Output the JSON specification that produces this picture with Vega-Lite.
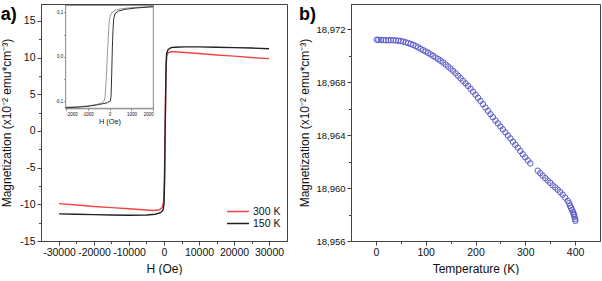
{
  "$schema": "https://vega.github.io/schema/vega-lite/v6.json",
  "padding": {"left": 0, "top": 3, "right": 1, "bottom": 0},
  "spacing": 10,
  "config": {
    "locale": {"number": {"decimal": ",", "thousands": ".", "grouping": [3], "currency": ["", ""], "minus": "-"}},
    "font": "Liberation Sans",
    "view": {"stroke": "#444", "strokeWidth": 1},
    "axis": {"grid": false, "domainColor": "#444", "tickColor": "#444", "labelColor": "#111", "titleColor": "#111", "labelFont": "Liberation Sans", "titleFont": "Liberation Sans", "titleFontWeight": "normal", "labelFontSize": 10.5, "titleFontSize": 12, "tickSize": 4, "labelPadding": 2},
    "title": {"font": "Liberation Sans"}
  },
  "datasets": {
    "main": [
      {"series": "300 K", "h": -30000, "m": -9.9}, {"series": "300 K", "h": -25000, "m": -10.1}, {"series": "300 K", "h": -20000, "m": -10.3}, {"series": "300 K", "h": -15000, "m": -10.45}, {"series": "300 K", "h": -10000, "m": -10.6}, {"series": "300 K", "h": -6000, "m": -10.75}, {"series": "300 K", "h": -3000, "m": -10.85}, {"series": "300 K", "h": -1300, "m": -10.75}, {"series": "300 K", "h": -500, "m": -10.4}, {"series": "300 K", "h": -100, "m": -9.6}, {"series": "300 K", "h": 100, "m": -7}, {"series": "300 K", "h": 250, "m": -2}, {"series": "300 K", "h": 400, "m": 3}, {"series": "300 K", "h": 550, "m": 8}, {"series": "300 K", "h": 750, "m": 10.2}, {"series": "300 K", "h": 1200, "m": 10.65}, {"series": "300 K", "h": 2000, "m": 10.8}, {"series": "300 K", "h": 3000, "m": 10.8}, {"series": "300 K", "h": 6000, "m": 10.7}, {"series": "300 K", "h": 10000, "m": 10.55}, {"series": "300 K", "h": 15000, "m": 10.35}, {"series": "300 K", "h": 20000, "m": 10.2}, {"series": "300 K", "h": 25000, "m": 10.0}, {"series": "300 K", "h": 30000, "m": 9.85},
      {"series": "150 K", "h": -30000, "m": -11.3}, {"series": "150 K", "h": -25000, "m": -11.35}, {"series": "150 K", "h": -20000, "m": -11.4}, {"series": "150 K", "h": -15000, "m": -11.45}, {"series": "150 K", "h": -10000, "m": -11.5}, {"series": "150 K", "h": -5000, "m": -11.45}, {"series": "150 K", "h": -2500, "m": -11.35}, {"series": "150 K", "h": -1000, "m": -11.15}, {"series": "150 K", "h": -300, "m": -10.8}, {"series": "150 K", "h": 0, "m": -10}, {"series": "150 K", "h": 200, "m": -6}, {"series": "150 K", "h": 300, "m": -1}, {"series": "150 K", "h": 450, "m": 4}, {"series": "150 K", "h": 600, "m": 9}, {"series": "150 K", "h": 750, "m": 10.6}, {"series": "150 K", "h": 1200, "m": 11.1}, {"series": "150 K", "h": 2000, "m": 11.35}, {"series": "150 K", "h": 3000, "m": 11.4}, {"series": "150 K", "h": 6000, "m": 11.45}, {"series": "150 K", "h": 10000, "m": 11.45}, {"series": "150 K", "h": 15000, "m": 11.4}, {"series": "150 K", "h": 20000, "m": 11.35}, {"series": "150 K", "h": 25000, "m": 11.3}, {"series": "150 K", "h": 30000, "m": 11.2}
    ],
    "inset": [
      {"branch": "down", "h": -2000, "m": -0.114}, {"branch": "down", "h": -1500, "m": -0.113}, {"branch": "down", "h": -1000, "m": -0.111}, {"branch": "down", "h": -600, "m": -0.108}, {"branch": "down", "h": -350, "m": -0.104}, {"branch": "down", "h": -250, "m": -0.1}, {"branch": "down", "h": -200, "m": -0.09}, {"branch": "down", "h": -150, "m": -0.05}, {"branch": "down", "h": -100, "m": 0.0}, {"branch": "down", "h": -60, "m": 0.04}, {"branch": "down", "h": -20, "m": 0.075}, {"branch": "down", "h": 20, "m": 0.09}, {"branch": "down", "h": 100, "m": 0.1}, {"branch": "down", "h": 250, "m": 0.105}, {"branch": "down", "h": 500, "m": 0.108}, {"branch": "down", "h": 1000, "m": 0.111}, {"branch": "down", "h": 1500, "m": 0.112}, {"branch": "down", "h": 2000, "m": 0.113},
      {"branch": "up", "h": -2000, "m": -0.115}, {"branch": "up", "h": -1500, "m": -0.114}, {"branch": "up", "h": -1000, "m": -0.112}, {"branch": "up", "h": -500, "m": -0.108}, {"branch": "up", "h": -100, "m": -0.104}, {"branch": "up", "h": 40, "m": -0.1}, {"branch": "up", "h": 70, "m": -0.09}, {"branch": "up", "h": 100, "m": -0.04}, {"branch": "up", "h": 130, "m": 0.02}, {"branch": "up", "h": 160, "m": 0.06}, {"branch": "up", "h": 190, "m": 0.085}, {"branch": "up", "h": 250, "m": 0.097}, {"branch": "up", "h": 400, "m": 0.103}, {"branch": "up", "h": 700, "m": 0.107}, {"branch": "up", "h": 1200, "m": 0.11}, {"branch": "up", "h": 2000, "m": 0.113}
    ],
    "temp": [
      {"t": 2, "m": 18.9712}, {"t": 5, "m": 18.97119}, {"t": 10, "m": 18.97118}, {"t": 15, "m": 18.97117}, {"t": 20, "m": 18.97116}, {"t": 25, "m": 18.97116}, {"t": 30, "m": 18.97117}, {"t": 35, "m": 18.97116}, {"t": 40, "m": 18.97115}, {"t": 45, "m": 18.97113}, {"t": 50, "m": 18.9711}, {"t": 55, "m": 18.97106}, {"t": 60, "m": 18.97101}, {"t": 65, "m": 18.97095}, {"t": 70, "m": 18.97088}, {"t": 75, "m": 18.97081}, {"t": 80, "m": 18.97072}, {"t": 85, "m": 18.97062}, {"t": 90, "m": 18.97051}, {"t": 95, "m": 18.97041}, {"t": 100, "m": 18.97031}, {"t": 105, "m": 18.97021}, {"t": 110, "m": 18.9701}, {"t": 115, "m": 18.96998}, {"t": 120, "m": 18.96986}, {"t": 125, "m": 18.96974}, {"t": 130, "m": 18.96961}, {"t": 135, "m": 18.96948}, {"t": 140, "m": 18.96933}, {"t": 145, "m": 18.96918}, {"t": 150, "m": 18.96902}, {"t": 155, "m": 18.96885}, {"t": 160, "m": 18.96867}, {"t": 165, "m": 18.96848}, {"t": 170, "m": 18.96829}, {"t": 175, "m": 18.9681}, {"t": 180, "m": 18.96791}, {"t": 185, "m": 18.96771}, {"t": 190, "m": 18.9675}, {"t": 195, "m": 18.96728}, {"t": 200, "m": 18.96705}, {"t": 205, "m": 18.96682}, {"t": 210, "m": 18.96658}, {"t": 215, "m": 18.96633}, {"t": 220, "m": 18.96608}, {"t": 225, "m": 18.96583}, {"t": 230, "m": 18.96558}, {"t": 235, "m": 18.96535}, {"t": 240, "m": 18.9651}, {"t": 245, "m": 18.96488}, {"t": 250, "m": 18.96465}, {"t": 255, "m": 18.96443}, {"t": 260, "m": 18.9642}, {"t": 265, "m": 18.96397}, {"t": 270, "m": 18.96375}, {"t": 275, "m": 18.9635}, {"t": 280, "m": 18.96327}, {"t": 285, "m": 18.96305}, {"t": 290, "m": 18.9628}, {"t": 295, "m": 18.96255}, {"t": 300, "m": 18.96232}, {"t": 305, "m": 18.96208}, {"t": 310, "m": 18.96186}, {"t": 325, "m": 18.96131}, {"t": 330, "m": 18.96112}, {"t": 335, "m": 18.96094}, {"t": 340, "m": 18.96075}, {"t": 345, "m": 18.96057}, {"t": 350, "m": 18.9604}, {"t": 355, "m": 18.96021}, {"t": 360, "m": 18.96005}, {"t": 365, "m": 18.95988}, {"t": 370, "m": 18.9597}, {"t": 375, "m": 18.9595}, {"t": 380, "m": 18.95928}, {"t": 385, "m": 18.95903}, {"t": 388, "m": 18.95885}, {"t": 390, "m": 18.95865}, {"t": 392, "m": 18.9585}, {"t": 394, "m": 18.95835}, {"t": 396, "m": 18.95818}, {"t": 397, "m": 18.95805}, {"t": 398, "m": 18.95795}, {"t": 399, "m": 18.9578}, {"t": 400, "m": 18.95765}, {"t": 400.5, "m": 18.95752}
    ]
  },
  "hconcat": [
    {
      "width": 246,
      "height": 237,
      "title": {"text": "a)", "anchor": "start", "frame": "bounds", "fontSize": 18, "fontWeight": "bold", "color": "#000", "offset": -20},
      "layer": [
        {
          "data": {"name": "main"},
          "mark": {"type": "line", "strokeWidth": 1.4},
          "encoding": {
            "x": {"field": "h", "type": "quantitative", "scale": {"domain": [-35140, 35140], "nice": false, "zero": false},
                  "axis": {"title": "H (Oe)", "values": [-30000, -25000, -20000, -15000, -10000, -5000, 0, 5000, 10000, 15000, 20000, 25000, 30000], "format": "d", "labelExpr": "datum.value % 10000 == 0 ? datum.label : ''", "tickSize": {"condition": {"test": "datum.value % 10000 == 0", "value": 4}, "value": 2.5}, "titlePadding": 6}},
            "y": {"field": "m", "type": "quantitative", "scale": {"domain": [-15, 17.3], "nice": false, "zero": false},
                  "axis": {"title": "Magnetization (x10⁻² emu*cm⁻³)", "values": [-15, -12.5, -10, -7.5, -5, -2.5, 0, 2.5, 5, 7.5, 10, 12.5, 15], "format": "d", "labelExpr": "datum.value % 5 == 0 ? datum.label : ''", "tickSize": {"condition": {"test": "datum.value % 5 == 0", "value": 4}, "value": 2.5}, "titlePadding": 6}},
            "color": {"field": "series", "type": "nominal", "scale": {"domain": ["300 K", "150 K"], "range": ["#f04545", "#222222"]},
                      "legend": {"title": null, "orient": "none", "legendX": 185, "legendY": 201, "symbolType": "M-1,0H3", "symbolSize": 121, "symbolStrokeWidth": 1.5, "symbolFillColor": "transparent", "labelFontSize": 10.5, "labelFont": "Liberation Sans", "labelColor": "#111", "rowPadding": 0, "labelOffset": 14}}
          }
        },
        {
          "data": {"name": "inset"},
          "layer": [
            {
              "mark": {"type": "rect", "fill": "white", "stroke": "#888", "strokeWidth": 0.8},
              "encoding": {
                "x": {"datum": -2000, "type": "quantitative"},
                "x2": {"datum": 2000},
                "y": {"datum": -0.1164, "type": "quantitative"},
                "y2": {"datum": 0.1157}
              }
            },
            {
              "transform": [{"filter": "datum.branch == 'down'"}],
              "mark": {"type": "line", "strokeWidth": 1, "color": "#999999"},
              "encoding": {
                "x": {"field": "h", "type": "quantitative"},
                "y": {"field": "m", "type": "quantitative"}
              }
            },
            {
              "transform": [{"filter": "datum.branch == 'up'"}],
              "mark": {"type": "line", "strokeWidth": 1, "color": "#333333"},
              "encoding": {
                "x": {"field": "h", "type": "quantitative", "scale": {"domain": [-2000, 2000], "nice": false, "zero": false, "range": [24.7, 112.3]},
                      "axis": {"orient": "bottom", "offset": -132.7, "title": "H (Oe)", "titleFontSize": 7.4, "titlePadding": 2, "labelFontSize": 4.5, "labelPadding": 1, "values": [-2000, -1500, -1000, -500, 0, 500, 1000, 1500, 2000], "format": "d", "labelExpr": "datum.value % 1000 == 0 ? datum.label : ''", "tickSize": 2, "domainColor": "#888", "tickColor": "#888"}},
                "y": {"field": "m", "type": "quantitative", "scale": {"domain": [-0.1164, 0.1157], "nice": false, "zero": false, "range": [104.3, 1.5]},
                      "axis": {"orient": "left", "offset": -24.7, "title": null, "labelFontSize": 4.5, "labelPadding": 1, "values": [-0.1, -0.05, 0, 0.05, 0.1], "format": ".1f", "labelExpr": "abs(round(datum.value*100)) % 10 == 0 ? datum.label : ''", "tickSize": 2, "domainColor": "#888", "tickColor": "#888"}}
              }
            }
          ]
        }
      ],
      "resolve": {"scale": {"x": "independent", "y": "independent"}, "axis": {"x": "independent", "y": "independent"}}
    },
    {
      "width": 249,
      "height": 237,
      "title": {"text": "b)", "anchor": "start", "frame": "bounds", "fontSize": 18, "fontWeight": "bold", "color": "#000", "offset": -20},
      "data": {"name": "temp"},
      "mark": {"type": "point", "shape": "circle", "filled": false, "size": 30, "strokeWidth": 1, "color": "#5a5ac8", "opacity": 1},
      "encoding": {
        "x": {"field": "t", "type": "quantitative", "scale": {"domain": [-50, 450], "nice": false, "zero": false},
              "axis": {"title": "Temperature (K)", "values": [0, 50, 100, 150, 200, 250, 300, 350, 400], "format": "d", "labelExpr": "datum.value % 100 == 0 ? datum.label : ''", "tickSize": {"condition": {"test": "datum.value % 100 == 0", "value": 4}, "value": 2.5}, "titlePadding": 6}},
        "y": {"field": "m", "type": "quantitative", "scale": {"domain": [18.956, 18.9739], "nice": false, "zero": false},
              "axis": {"title": "Magnetization (x10⁻² emu*cm⁻³)", "values": [18.956, 18.958, 18.96, 18.962, 18.964, 18.966, 18.968, 18.97, 18.972], "format": ".3f", "labelFontSize": 9.5, "labelExpr": "round(datum.value*1000) % 4 == 0 ? datum.label : ''", "tickSize": {"condition": {"test": "round(datum.value*1000) % 4 == 0", "value": 4}, "value": 2.5}, "titlePadding": 4}}
      }
    }
  ],
  "resolve": {"scale": {"color": "independent"}, "legend": {"color": "independent"}}
}
